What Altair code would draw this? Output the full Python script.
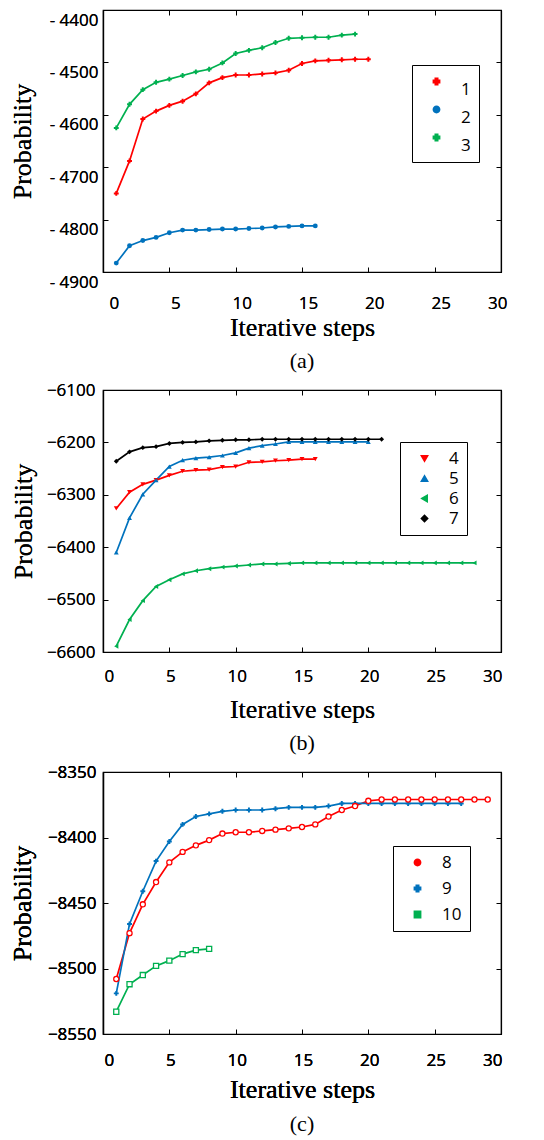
import altair as alt
import pandas as pd

# ---------------- data ----------------
x_ticks = [0, 5, 10, 15, 20, 25, 30]

# panel (a)
a_names = ["1", "2", "3"]
a1 = [-4750, -4688, -4608, -4593, -4582, -4574, -4560, -4539, -4529, -4524,
      -4524, -4522, -4520, -4515, -4502, -4497, -4496, -4495, -4494, -4494]
a2 = [-4883, -4850, -4840, -4834, -4825, -4820, -4820, -4819, -4818, -4818,
      -4817, -4816, -4814, -4813, -4812, -4812]
a3 = [-4625, -4580, -4552, -4538, -4532, -4525, -4518, -4513, -4501, -4483,
      -4477, -4472, -4462, -4454, -4453, -4452, -4452, -4448, -4446]
a_yticks = [-4900, -4800, -4700, -4600, -4500, -4400]

# panel (b)
b_names = ["4", "5", "6", "7"]
b4 = [-6326, -6295, -6280, -6272, -6263, -6255, -6253, -6252, -6247, -6246,
      -6238, -6237, -6235, -6234, -6232, -6232]
b5 = [-6410, -6344, -6299, -6272, -6246, -6234, -6230, -6228, -6225, -6220,
      -6211, -6206, -6203, -6199, -6199, -6199, -6199, -6199, -6199, -6199]
b6 = [-6589, -6538, -6502, -6475, -6462, -6451, -6445, -6441, -6438, -6436,
      -6434, -6432, -6432, -6431, -6430, -6430, -6430, -6430, -6430, -6430,
      -6430, -6430, -6430, -6430, -6430, -6430, -6430, -6430]
b7 = [-6236, -6218, -6210, -6208, -6202, -6200, -6199, -6197, -6196, -6195,
      -6195, -6194, -6194, -6194, -6194, -6194, -6194, -6194, -6194, -6194, -6194]
b_yticks = [-6600, -6500, -6400, -6300, -6200, -6100]

# panel (c)
c_names = ["8", "9", "10"]
c8 = [-8508, -8473, -8451, -8434, -8419, -8411, -8406, -8402, -8397, -8396,
      -8396, -8395, -8394, -8393, -8392, -8390, -8384, -8379, -8376, -8372,
      -8371, -8371, -8371, -8371, -8371, -8371, -8371, -8371, -8371]
c9 = [-8519, -8466, -8441, -8418, -8403, -8390, -8384, -8382, -8380, -8379,
      -8379, -8379, -8378, -8377, -8377, -8377, -8376, -8374, -8374, -8374,
      -8374, -8374, -8374, -8374, -8374, -8374, -8374]
c10 = [-8533, -8512, -8505, -8498, -8494, -8489, -8486, -8485]
c_yticks = [-8550, -8500, -8450, -8400, -8350]

# ---------------- styles ----------------
RED, BLUE, GREEN, BLACK = "#ff0000", "#0072bd", "#00b050", "#000000"
W, H = 398, 262
TL = 5
LABEL_FONT = "Open Sans"
SERIF = "Liberation Serif"


def plain_axis(orient, values, offset, ticks, domain):
    return alt.Axis(orient=orient, values=values, labels=False, title=None, grid=False,
                    offset=offset, ticks=ticks, tickSize=TL, tickColor="black",
                    tickWidth=1, domain=domain, domainColor="black", domainWidth=1.2)


def make_panel(series, names, colors, shapes, open_names, ydom, yticks, caption,
               leg_x, leg_y, leg_rowpad, leg_baseline, ylab_expr, ylab_off,
               xlab_off, xlab_pad, xtitle_pad, ylab_pad, ytitle_pad, cap_off):
    rows = []
    for name, vals in zip(names, series):
        for i, v in enumerate(vals):
            rows.append({"series": name, "step": i + 1, "value": v})
    df = pd.DataFrame(rows)

    xscale = alt.Scale(domain=[0, 30], nice=False)
    yscale = alt.Scale(domain=ydom, nice=False, zero=False)

    xax = alt.Axis(orient="bottom", values=x_ticks, title="Iterative steps", ticks=False,
                   grid=False, domain=True, domainColor="black", domainWidth=1.2,
                   labelFont=LABEL_FONT, labelFontSize=17,
                   labelColor="black", labelPadding=xlab_pad, labelOffset=xlab_off,
                   titleFont=SERIF, titleFontSize=26,
                   titleFontWeight="normal", titleColor="black",
                   titlePadding=xtitle_pad)
    yax = alt.Axis(orient="left", values=yticks, title="Probability", ticks=False,
                   grid=False, domain=True, domainColor="black", domainWidth=1.2,
                   labelFont=LABEL_FONT, labelFontSize=17,
                   labelColor="black", labelPadding=ylab_pad, labelOffset=ylab_off,
                   labelExpr=ylab_expr, titleFont=SERIF,
                   titleFontSize=26, titleFontWeight="normal", titleColor="black",
                   titlePadding=ytitle_pad)
    xs = alt.X("step:Q", scale=xscale, axis=xax)
    ys = alt.Y("value:Q", scale=yscale, axis=yax)

    leg = alt.Legend(title=None, orient="none", legendX=leg_x, legendY=leg_y,
                     strokeColor="black", padding=8, symbolSize=40,
                     symbolStrokeWidth=1.5, symbolOffset=8, labelFont=LABEL_FONT,
                     labelFontSize=17, labelColor="black", labelOffset=16,
                     rowPadding=leg_rowpad, labelBaseline=leg_baseline)
    col = alt.Color("series:N", scale=alt.Scale(domain=names, range=colors), legend=leg)
    shp = alt.Shape("series:N", scale=alt.Scale(domain=names, range=shapes), legend=leg)

    base = alt.Chart(df)
    lines = base.mark_line(strokeWidth=1.7).encode(x=xs, y=ys, color=col, order="step:Q")
    filled_pts = base.transform_filter(
        alt.FieldOneOfPredicate(field="series", oneOf=[n for n in names if n not in open_names])
    ).mark_point(filled=True, size=24, opacity=1).encode(x=xs, y=ys, color=col, shape=shp)
    layers = [lines, filled_pts]
    if open_names:
        open_pts = base.transform_filter(
            alt.FieldOneOfPredicate(field="series", oneOf=open_names)
        ).mark_point(filled=False, fill="white", size=26, strokeWidth=1.3, opacity=1).encode(
            x=xs, y=ys, color=col, shape=shp)
        layers.append(open_pts)

    # box frame (top/right edges) and inward ticks on all four sides, via extra axes
    ghost = base.mark_line(opacity=0)
    layers.append(ghost.encode(
        x=alt.X("step:Q", scale=xscale, axis=plain_axis("top", x_ticks, 0, False, True)),
        y=alt.Y("value:Q", scale=yscale, axis=plain_axis("right", yticks, 0, False, True))))
    layers.append(ghost.encode(
        x=alt.X("step:Q", scale=xscale, axis=plain_axis("bottom", x_ticks, -TL, True, False)),
        y=alt.Y("value:Q", scale=yscale, axis=plain_axis("left", yticks, -TL, True, False))))
    layers.append(ghost.encode(
        x=alt.X("step:Q", scale=xscale, axis=plain_axis("top", x_ticks, -TL, True, False)),
        y=alt.Y("value:Q", scale=yscale, axis=plain_axis("right", yticks, -TL, True, False))))

    return alt.layer(*layers).resolve_axis(x="independent", y="independent").properties(
        width=W, height=H,
        title=alt.Title(caption, orient="bottom", font=SERIF, fontSize=22,
                        fontWeight="normal", color="black", offset=cap_off),
    )


pa = make_panel([a1, a2, a3], a_names, [RED, BLUE, GREEN], ["cross", "circle", "cross"], [],
                [-4900, -4400], a_yticks, "(a)",
                309, 55, 3, "top", "'- ' + format(abs(datum.value), 'd')", 10,
                6, 23, 3, 5, 14, 11)
pb = make_panel([b4, b5, b6, b7], b_names, [RED, BLUE, GREEN, BLACK],
                ["triangle-down", "triangle-up", "triangle-left", "diamond"], [],
                [-6600, -6100], b_yticks, "(b)",
                297, 52, 2, "middle", "format(datum.value, 'd')", 0,
                1, 16, 12, 8, 10, 11)
pc = make_panel([c8, c9, c10], c_names, [RED, BLUE, GREEN], ["circle", "cross", "square"], ["8", "10"],
                [-8550, -8350], c_yticks, "(c)",
                290, 74, 8, "middle", "format(datum.value, 'd')", 0,
                1, 18, 8, 7, 12, 12)

chart = alt.vconcat(pa, pb, pc, spacing=7).resolve_scale(
    color="independent", shape="independent"
).properties(
    padding={"left": 0, "top": 0, "right": 0, "bottom": 0}
).configure_view(stroke="black", strokeWidth=1.2)

chart.save("out.html", embed_options={"renderer": "svg", "actions": False})
